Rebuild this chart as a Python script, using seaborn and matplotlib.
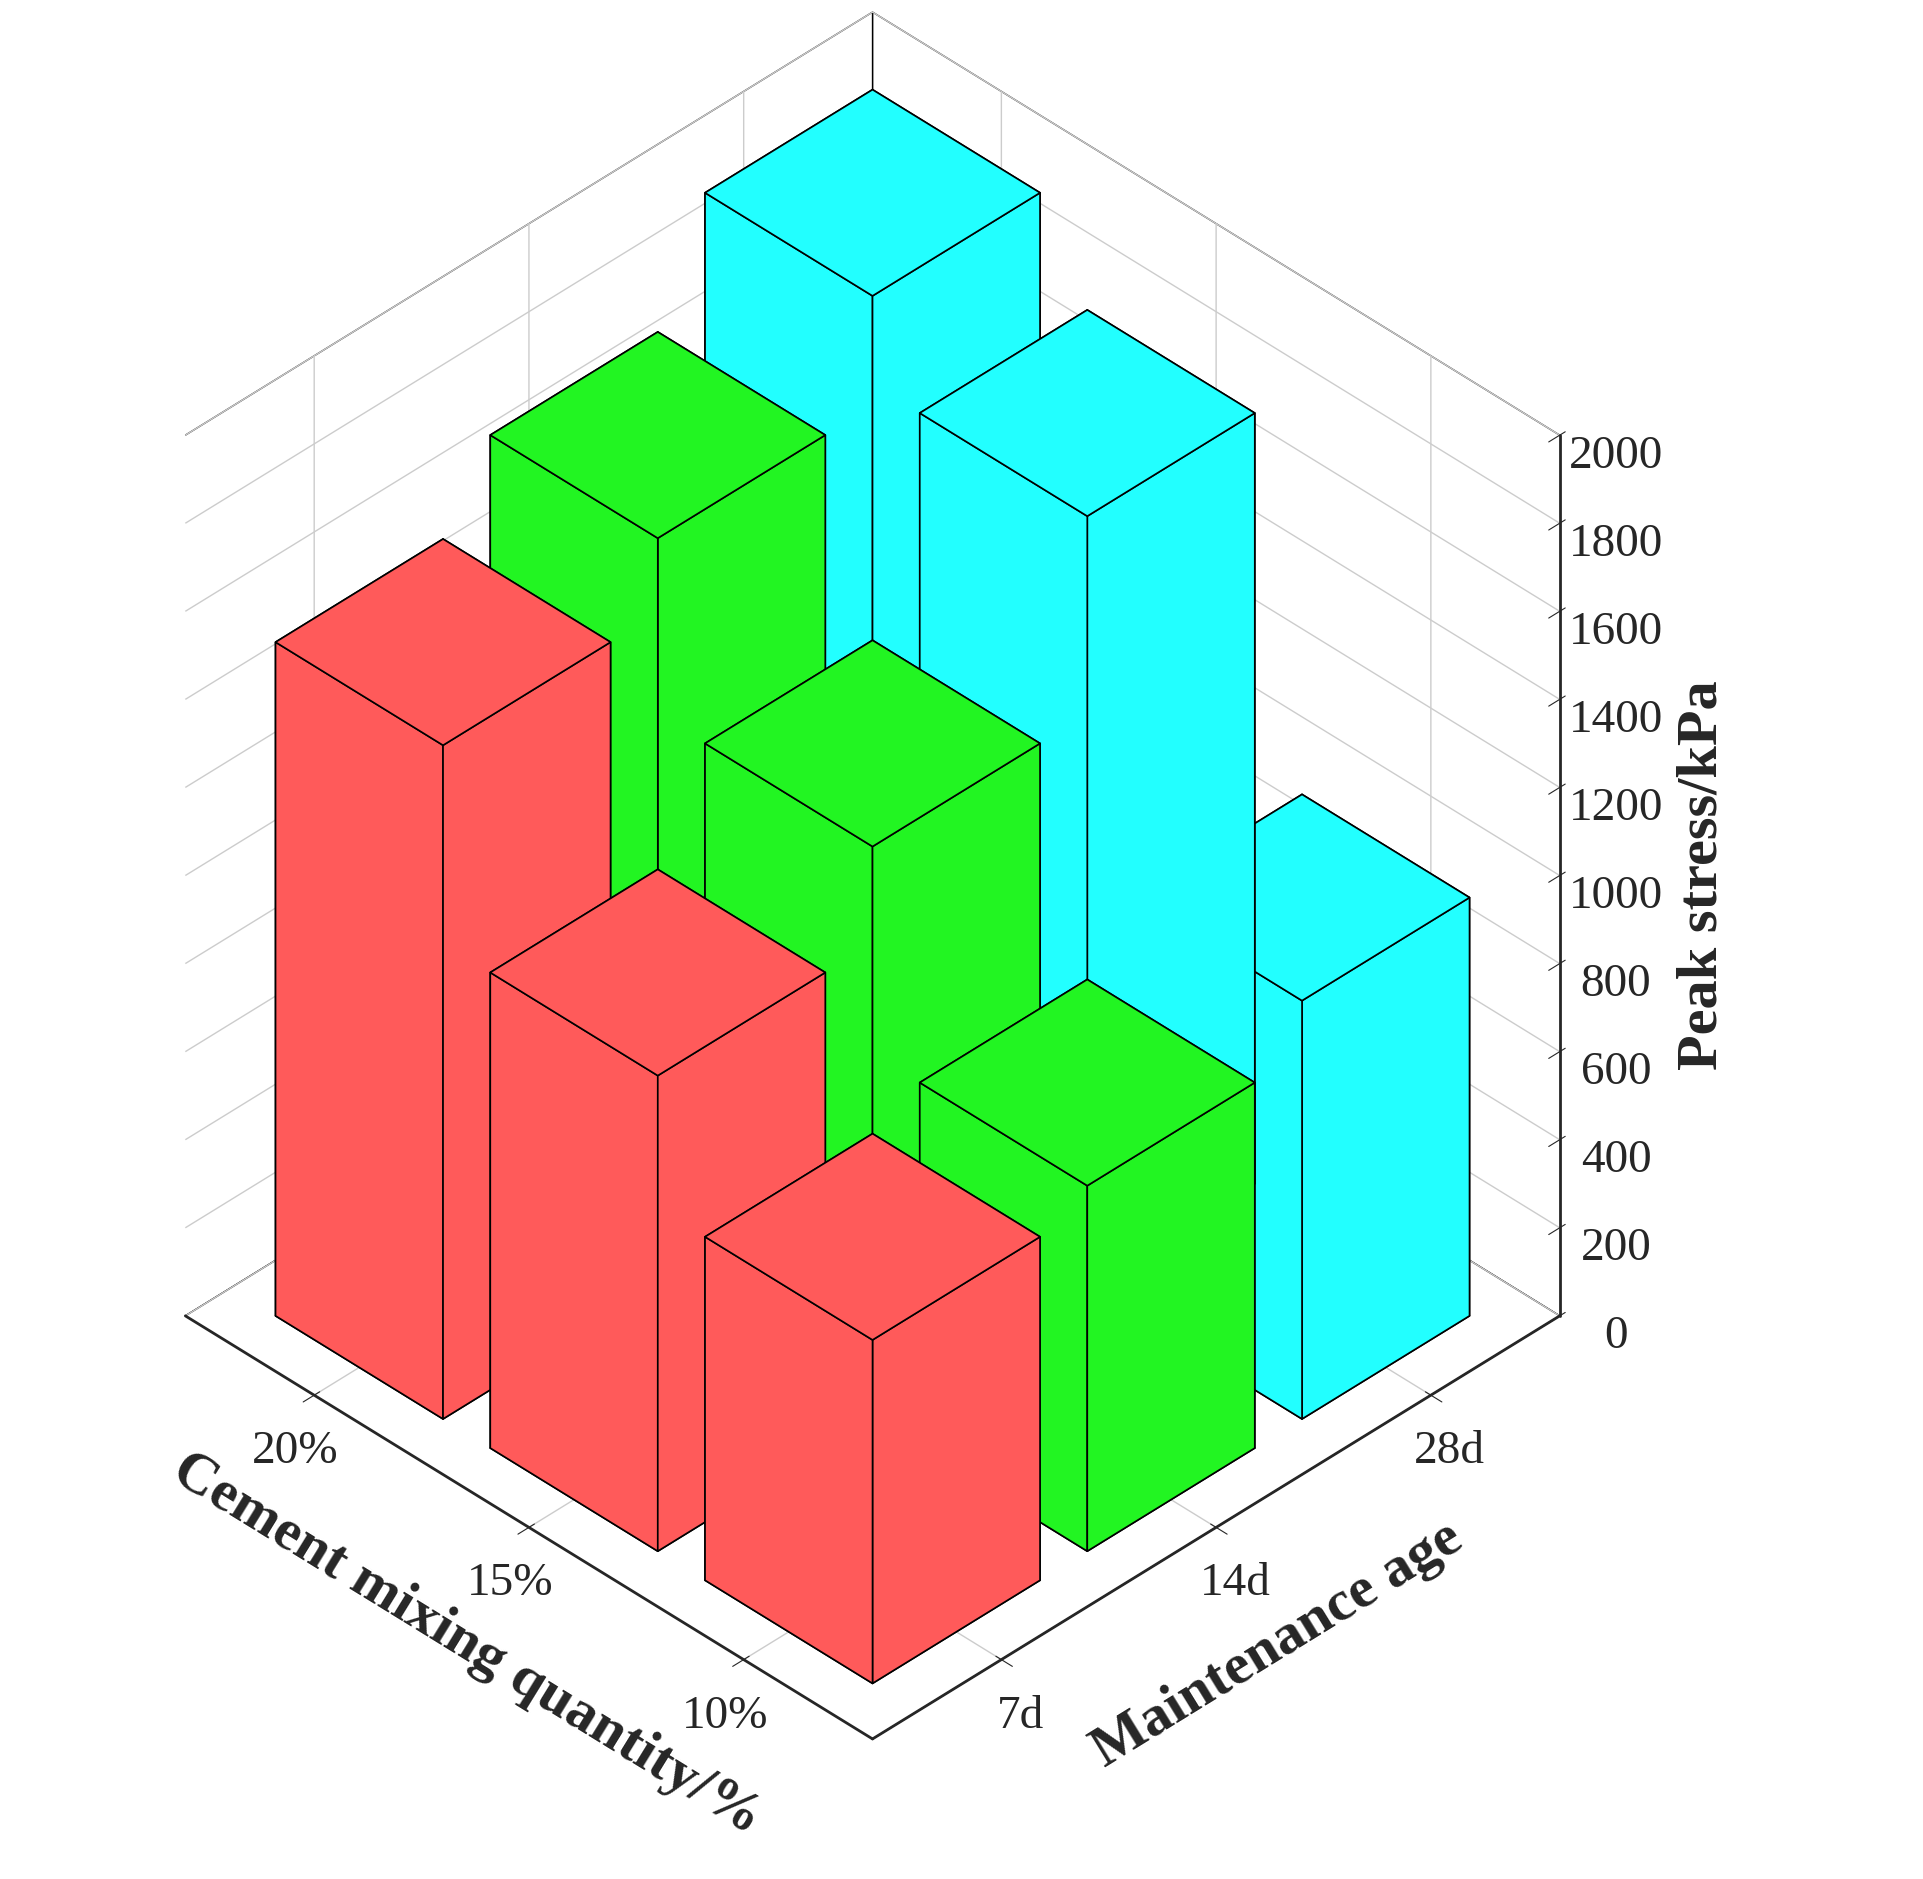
import numpy as np
import seaborn as sns
import matplotlib
matplotlib.use("Agg")
import matplotlib.pyplot as plt

sns.set_style("white")
plt.rcParams['font.family'] = ['Liberation Serif', 'DejaVu Serif']

cement = ['10%', '15%', '20%']
ages = ['7d', '14d', '28d']
# peak stress (kPa) rows = cement, cols = age
stress = np.array([
    [780, 830, 950],
    [1080, 1300, 1750],
    [1530, 1700, 1950],
])
age_colors = ['#ff5a5a', '#22f522', '#22ffff']

fig = plt.figure(figsize=(19.23, 18.79), dpi=100)
ax = fig.add_subplot(111, projection='3d')
ax.set_position([-0.09, 0.0, 1.06, 1.04])
ax.set_proj_type('ortho')

w = 0.78
for i in range(len(cement)):
    for j in range(len(ages)):
        ax.bar3d(j - w / 2, i - w / 2, 0, w, w, stress[i, j],
                 color=age_colors[j], edgecolor='black', linewidth=1.2,
                 shade=False, alpha=1)

ax.set_xlim(-0.6, 2.6)
ax.set_ylim(-0.6, 2.6)
ax.set_zlim(0, 2000)
ax.set_xticks(range(len(ages)))
ax.set_xticklabels(ages, fontsize=34)
ax.set_yticks(range(len(cement)))
ax.set_yticklabels(cement, fontsize=34)
ax.set_zticks(np.arange(0, 2001, 200))
ax.tick_params(axis='z', labelsize=34, pad=22)
ax.tick_params(axis='x', pad=12)
ax.tick_params(axis='y', pad=12)
ax.set_xlabel('Maintenance age', fontsize=42, fontweight='bold', labelpad=45)
ax.set_ylabel('Cement mixing quantity/%', fontsize=42, fontweight='bold', labelpad=45)
ax.set_zlabel('Peak stress/kPa', fontsize=42, fontweight='bold', labelpad=55)

for axis in (ax.xaxis, ax.yaxis, ax.zaxis):
    axis.set_pane_color((1, 1, 1, 1))
    axis.pane.set_edgecolor('black')
    axis._axinfo['grid']['color'] = (0.8, 0.8, 0.8, 1)
    axis._axinfo['grid']['linewidth'] = 1.0
    axis.line.set_linewidth(2)

ax.zaxis._axinfo['juggled'] = (1, 2, 0)
ax.view_init(elev=38, azim=-135)
ax.set_box_aspect((1, 1, 1.15), zoom=0.88)

fig.savefig('out.png', dpi=100)
